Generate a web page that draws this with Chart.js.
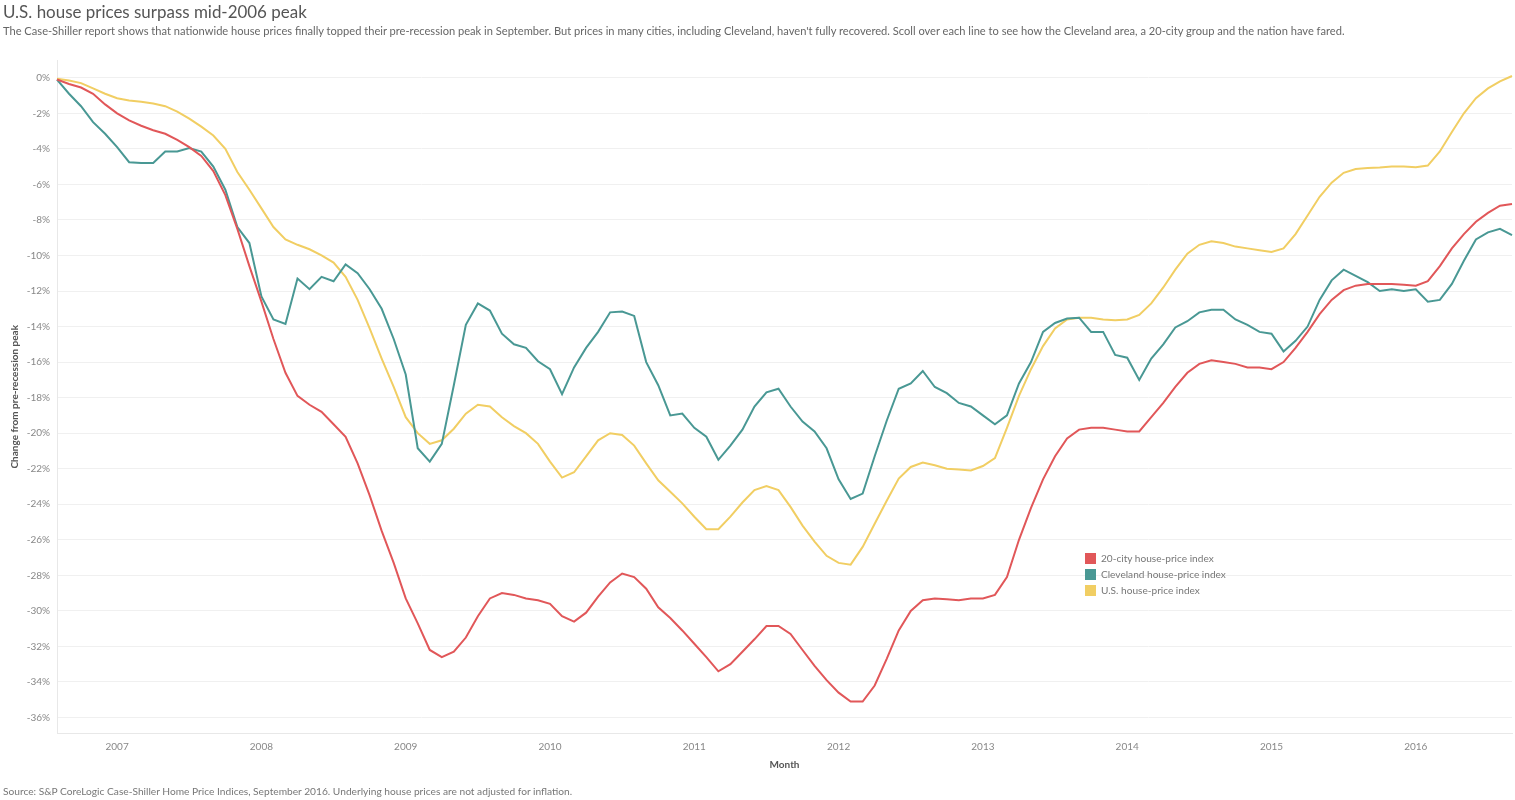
<!DOCTYPE html>
<html>
<head>
<meta charset="utf-8">
<title>U.S. house prices surpass mid-2006 peak</title>
<script src="https://cdn.jsdelivr.net/npm/chart.js@4.4.1/dist/chart.umd.min.js"></script>
<style>
  html, body { margin: 0; padding: 0; background: #fff; }
  body { width: 1515px; height: 800px; position: relative; overflow: hidden; font-family: Lato, "Open Sans", sans-serif; }
  .txt { position: absolute; white-space: nowrap; }
  #title { left: 3px; top: 1px; font-size: 17px; color: #555; line-height: 22px; }
  #subtitle { left: 3px; top: 24px; font-size: 10px; color: #666; line-height: 14px; }
  #source { left: 3px; top: 784px; font-size: 10px; color: #777; line-height: 14px; }
  #wrap { position: absolute; left: 0; top: 0; width: 1515px; height: 800px; }
  #legend { position: absolute; left: 1085px; top: 553px; }
  .row { height: 16.2px; display: flex; align-items: flex-start; }
  .sw { width: 11px; height: 11px; margin-right: 5px; flex: none; }
  .lab { font-size: 10px; color: #777; line-height: 11px; white-space: nowrap; }
</style>
</head>
<body>
<div id="wrap"><canvas id="chart" width="1515" height="800"></canvas></div>
<span class="txt" id="title">U.S. house prices surpass mid-2006 peak</span>
<span class="txt" id="subtitle">The Case-Shiller report shows that nationwide house prices finally topped their pre-recession peak in September. But prices in many cities, including Cleveland, haven't fully recovered. Scoll over each line to see how the Cleveland area, a 20-city group and the nation have fared.</span>
<span class="txt" id="source">Source: S&amp;P CoreLogic Case-Shiller Home Price Indices, September 2016. Underlying house prices are not adjusted for inflation.</span>
<div id="legend"></div>
<script>
// monthly series, Aug 2006 .. Sep 2016, % change from pre-recession peak
const seriesNames = ['20-city house-price index', 'Cleveland house-price index', 'U.S. house-price index'];
const seriesColors = ['#e15759', '#499894', '#f1ce63'];
const yTicks = [0, -2, -4, -6, -8, -10, -12, -14, -16, -18, -20, -22, -24, -26, -28, -30, -32, -34, -36];
const monthNames = ['Jan', 'Feb', 'Mar', 'Apr', 'May', 'Jun', 'Jul', 'Aug', 'Sep', 'Oct', 'Nov', 'Dec'];

const twentyCity = [
  -0.1, -0.35, -0.55, -0.9, -1.5, -2.0, -2.4, -2.7, -2.95, -3.15, -3.5, -3.9,
  -4.4, -5.25, -6.6, -8.5, -10.6, -12.6, -14.7, -16.6, -17.9, -18.4, -18.8, -19.5,
  -20.2, -21.7, -23.5, -25.5, -27.3, -29.3, -30.7, -32.2, -32.6, -32.3, -31.5, -30.3,
  -29.3, -29.0, -29.1, -29.3, -29.4, -29.6, -30.3, -30.6, -30.1, -29.2, -28.4, -27.9,
  -28.1, -28.75, -29.8, -30.4, -31.1, -31.85, -32.6, -33.4, -33.0, -32.3, -31.6, -30.85,
  -30.85, -31.3, -32.2, -33.1, -33.9, -34.6, -35.1, -35.1, -34.2, -32.7, -31.1, -30.0,
  -29.4, -29.3, -29.35, -29.4, -29.3, -29.3, -29.1, -28.1, -26.0, -24.2, -22.6, -21.3,
  -20.3, -19.8, -19.7, -19.7, -19.8, -19.9, -19.9, -19.1, -18.3, -17.4, -16.6, -16.1,
  -15.9, -16.0, -16.1, -16.3, -16.3, -16.4, -16.0, -15.2, -14.3, -13.3, -12.5, -11.95,
  -11.7, -11.6, -11.6, -11.6, -11.65, -11.7, -11.45, -10.6, -9.6, -8.8, -8.1, -7.6,
  -7.2, -7.1
];

const cleveland = [
  -0.1, -0.9, -1.6, -2.5, -3.15, -3.9, -4.75, -4.8, -4.8, -4.15, -4.15, -3.95,
  -4.15, -5.0, -6.3, -8.4, -9.3, -12.3, -13.6, -13.85, -11.3, -11.9, -11.2, -11.45,
  -10.5, -11.0, -11.9, -13.0, -14.7, -16.7, -20.85, -21.6, -20.6, -17.3, -13.9, -12.7,
  -13.1, -14.4, -15.0, -15.2, -15.95, -16.4, -17.8, -16.3, -15.2, -14.3, -13.2, -13.15,
  -13.4, -16.0, -17.3, -19.0, -18.9, -19.7, -20.2, -21.5, -20.7, -19.8, -18.5, -17.7,
  -17.5, -18.5, -19.35, -19.9, -20.85, -22.6, -23.7, -23.4, -21.3, -19.3, -17.5, -17.2,
  -16.5, -17.4, -17.75, -18.3, -18.5, -19.0, -19.5, -19.0, -17.2, -16.0, -14.3, -13.8,
  -13.55, -13.5, -14.3, -14.3, -15.6, -15.75, -17.0, -15.8, -15.0, -14.05, -13.7, -13.2,
  -13.05, -13.05, -13.6, -13.9, -14.3, -14.4, -15.4, -14.8, -14.0, -12.5, -11.4, -10.8,
  -11.15, -11.5, -12.0, -11.9, -12.0, -11.9, -12.6, -12.5, -11.6, -10.3, -9.1, -8.7,
  -8.5, -8.85
];

const usIndex = [
  -0.05, -0.15, -0.3, -0.6, -0.9, -1.15, -1.28, -1.35, -1.45, -1.6, -1.9, -2.3,
  -2.75, -3.25, -4.0, -5.3, -6.3, -7.35, -8.4, -9.1, -9.4, -9.65, -10.0, -10.4,
  -11.2, -12.5, -14.1, -15.8, -17.4, -19.1, -20.0, -20.6, -20.4, -19.75, -18.9, -18.4,
  -18.5, -19.1, -19.6, -20.0, -20.6, -21.6, -22.5, -22.2, -21.3, -20.4, -20.0, -20.1,
  -20.7, -21.7, -22.65, -23.3, -23.95, -24.7, -25.4, -25.4, -24.7, -23.9, -23.2, -22.98,
  -23.2, -24.15, -25.2, -26.1, -26.9, -27.3, -27.4, -26.4, -25.1, -23.8, -22.55, -21.9,
  -21.65, -21.8, -22.0, -22.05, -22.1, -21.85, -21.4, -19.7, -17.9, -16.4, -15.1, -14.1,
  -13.6, -13.5, -13.5, -13.6, -13.65, -13.6, -13.35, -12.7, -11.8, -10.8, -9.9, -9.4,
  -9.2, -9.3, -9.5, -9.6, -9.7, -9.8, -9.6, -8.8, -7.75, -6.7, -5.9, -5.35,
  -5.13, -5.08, -5.05, -5.0, -5.0, -5.03, -4.94, -4.15, -3.05, -2.0, -1.15, -0.6,
  -0.2, 0.1
];

// category labels: one per month starting Aug 2006
const months = [];
for (let i = 0; i < twentyCity.length; i++) {
  const m = (7 + i) % 12;
  const y = 2006 + Math.floor((7 + i) / 12);
  months.push(monthNames[m] + ' ' + y);
}

// fit the html texts to the widths they have in the picture
function fitWidth(el, w) {
  const fs = parseFloat(getComputedStyle(el).fontSize);
  const cur = el.getBoundingClientRect().width;
  el.style.fontSize = (fs * w / cur) + 'px';
}
fitWidth(document.getElementById('title'), 304);
fitWidth(document.getElementById('subtitle'), 1343);
fitWidth(document.getElementById('source'), 570);

// legend
const legend = document.getElementById('legend');
seriesNames.forEach((name, i) => {
  const row = document.createElement('div');
  row.className = 'row';
  row.innerHTML = '<div class="sw" style="background:' + seriesColors[i] + '"></div><span class="lab">' + name + '</span>';
  legend.appendChild(row);
});
const labs = legend.querySelectorAll('.lab');
fitWidth(labs[1], 125);
labs.forEach(l => { l.style.fontSize = labs[1].style.fontSize; });

const seriesData = [twentyCity, cleveland, usIndex];
const font = 'Lato, "Open Sans", sans-serif';

new Chart(document.getElementById('chart'), {
  type: 'line',
  data: {
    labels: months,
    datasets: seriesNames.map((name, i) => ({
      label: name,
      data: seriesData[i],
      borderColor: seriesColors[i],
      backgroundColor: seriesColors[i],
      borderWidth: 2,
      pointRadius: 0,
      tension: 0,
      fill: false
    }))
  },
  options: {
    responsive: false,
    animation: false,
    layout: { padding: { left: 0, right: 0, top: 60, bottom: 20 } },
    plugins: {
      legend: { display: false },
      tooltip: { enabled: false }
    },
    scales: {
      x: {
        type: 'category',
        offset: false,
        grid: { color: 'rgba(0,0,0,0)', drawTicks: false },
        border: { display: true, color: '#e8e8e8', width: 1 },
        ticks: {
          autoSkip: false,
          maxRotation: 0,
          padding: 7,
          color: '#888',
          font: { family: font, size: 10 },
          callback: function (value) {
            const lab = this.getLabelForValue(value);
            return lab.startsWith('Jan') ? lab.slice(4) : '';
          }
        },
        title: {
          display: true,
          text: 'Month',
          color: '#555',
          font: { family: font, size: 10, weight: 'bold' },
          padding: { top: 0, bottom: 9 }
        },
        afterFit: (scale) => {
          scale.height = 46.5;
          scale.paddingLeft = 0;
          scale.paddingRight = 3;
        }
      },
      y: {
        min: -36.9,
        max: 1.0,
        grid: { color: '#f0f0f0', drawTicks: false },
        border: { display: true, color: '#e8e8e8', width: 1 },
        afterBuildTicks: (scale) => { scale.ticks = yTicks.map(v => ({ value: v })); },
        ticks: {
          padding: 7,
          color: '#888',
          font: { family: font, size: 10 },
          callback: (v) => v + '%'
        },
        title: {
          display: true,
          text: 'Change from pre-recession peak',
          color: '#555',
          font: { family: font, size: 10, weight: 'bold' },
          padding: { top: 9, bottom: 0 }
        },
        afterFit: (scale) => { scale.width = 57; }
      }
    }
  }
});
</script>
</body>
</html>
